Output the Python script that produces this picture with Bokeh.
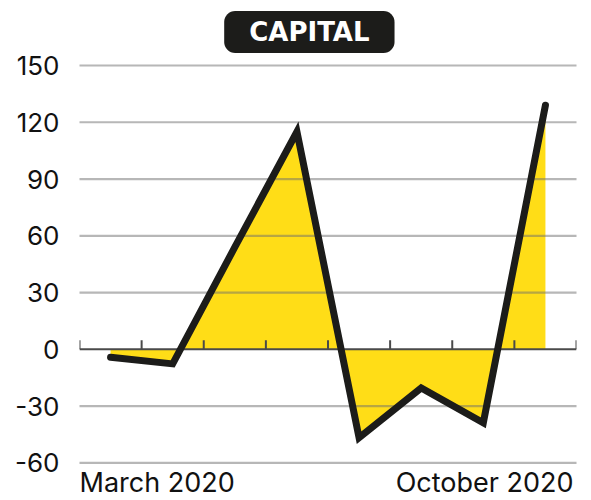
from bokeh.plotting import figure
from bokeh.models import FixedTicker, Label, Range1d
from bokeh.core.properties import value
from bokeh.embed import file_html
from bokeh.resources import INLINE

# ---- data ----
months = ["March 2020", "April 2020", "May 2020", "June 2020",
          "July 2020", "August 2020", "September 2020", "October 2020"]
capital = [-4.2, -7.7, 54, 115, -46.7, -20.4, -38.8, 129]
y_ticks = [-60, -30, 0, 30, 60, 90, 120, 150]
title_text = "CAPITAL"
first_label = "March 2020"
last_label = "October 2020"

x = list(range(len(months)))
n = len(months)

FONT = "Inter"
YELLOW = "#FFDD17"
INK = "#1c1c1a"

p = figure(width=591, height=500, output_backend="svg", toolbar_location=None,
           x_range=Range1d(-0.5, n - 0.5), y_range=Range1d(-79.9, 184.36),
           min_border_left=79, min_border_right=15, min_border_top=0, min_border_bottom=0)
p.outline_line_color = None
p.xaxis.visible = False
p.xgrid.visible = False
p.ygrid.visible = False
p.background_fill_color = "white"
p.border_fill_color = "white"

yax = p.yaxis[0]
yax.ticker = FixedTicker(ticks=y_ticks)
yax.major_label_overrides = {t: str(t) for t in y_ticks}
yax.axis_line_color = None
yax.major_tick_line_color = None
yax.minor_tick_line_color = None
yax.major_label_standoff = 14
yax.major_label_text_font = FONT
yax.major_label_text_font_size = "26px"
yax.major_label_text_color = "#111111"

# yellow area between line and zero
p.varea(x=x, y1=[0] * n, y2=capital, fill_color=YELLOW, fill_alpha=1)

# dotted gridlines (drawn over the fill)
grid_vals = [t for t in y_ticks if t != 0]
p.segment(x0=[-0.5] * len(grid_vals), x1=[n - 0.5] * len(grid_vals),
          y0=grid_vals, y1=grid_vals, line_color="#6e6e6e", line_width=2.2,
          line_dash="1 1")

# zero axis line with upward ticks at month boundaries
p.segment(x0=[-0.5], x1=[n - 0.5], y0=[0], y1=[0], line_color="#4a4a4a", line_width=2)
bounds = [i - 0.5 for i in range(n + 1)]
p.segment(x0=bounds, x1=bounds, y0=[0] * len(bounds), y1=[4.8] * len(bounds),
          line_color="#4a4a4a", line_width=2)

# main line
p.line(x=x, y=capital, line_color=INK, line_width=7, line_join="miter", line_cap="round")

# bottom labels
p.text(x=[-0.5], y=[-70.6], text=[first_label], text_align="left",
       text_baseline="alphabetic", text_font=value(FONT), text_font_size="27px",
       text_color="#111111")
p.text(x=[n - 0.5], y=[-70.6], text=[last_label], text_align="right",
       text_baseline="alphabetic", text_font=value(FONT), text_font_size="27px",
       text_color="#111111", x_offset=-3)

# title badge
title = Label(x=3.2, y=167.7, text=title_text, text_align="center",
              text_baseline="middle", text_color="white",
              text_font="DejaVu Sans", text_font_style="bold", text_font_size="26px",
              background_fill_color=INK, border_radius=11,
              padding=dict(left=25, right=25, top=6, bottom=6))
p.add_layout(title)

open("out.html", "w").write(file_html(p, INLINE))
